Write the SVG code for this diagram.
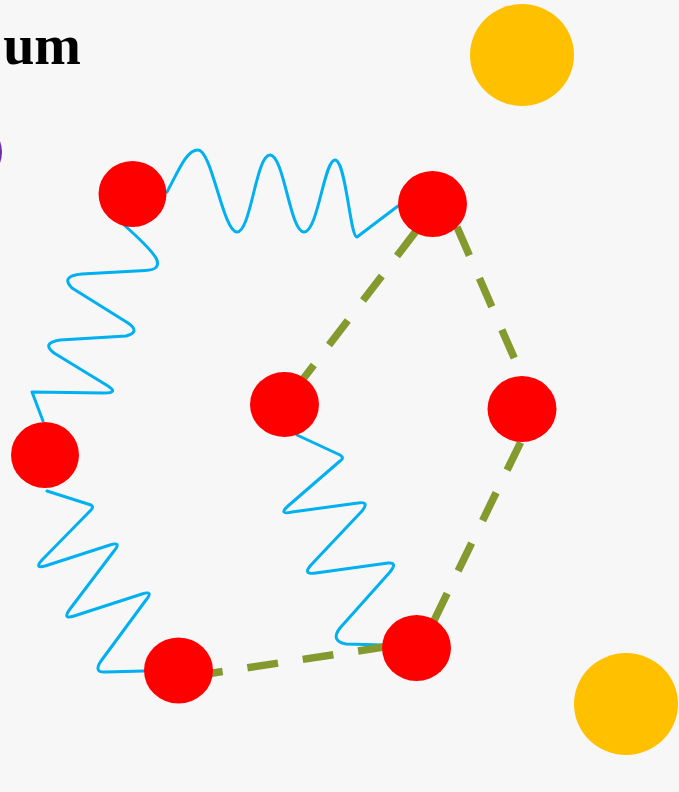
<svg xmlns="http://www.w3.org/2000/svg" width="679" height="792" viewBox="0 0 679 792">
<style>
.node{fill:#FF0000}
.sun{fill:#FFC000}
.spring{fill:none;stroke:#00B0F0;stroke-width:3;stroke-linejoin:round;stroke-linecap:round}
.bond{fill:none;stroke:#849A2E;stroke-width:7.5;stroke-dasharray:31 25}
.title{font-family:"Liberation Serif","DejaVu Serif",serif;font-size:56px;font-weight:bold;fill:#000}
</style>
<rect width="679" height="792" fill="#f7f7f7"/>
<text class="title" x="81" y="64" text-anchor="end">um</text>
<circle cx="-29" cy="152" r="31" fill="#7030A0"/>
<g id="sun1"><ellipse class="sun" cx="522" cy="55" rx="52" ry="51"/></g>
<g id="sun2"><ellipse class="sun" cx="626" cy="704" rx="52" ry="51"/></g>
<g id="connectors">
<path class="spring" d="M167,192 C178,172 186,150 198,150 C212,150 223,232 237,232 C251,232 256,155 270,155 C284,155 290,232 304,232 C318,232 324,160 335,160 C346,160 350,237 357,237 L398,206"/>
<path class="spring" d="M123,224 Q150,248 156,258 Q162,270 145,270.5 L82,274 Q60,276 72,288 L128,323 Q141,332 126,336 L60,340 Q41,343 54,353 L108,386 Q119,393 104,393 L32,392 L43,421"/>
<path class="spring" d="M47,491 L91,505 Q94,507 91,510 L42,560 Q34,569 45,566 L110,545 Q122,541 114,551 L70,609 Q62,620 74,616 L142,594 Q154,590 146,600 L101,661 Q93,673 106,672 L144,671"/>
<path class="spring" d="M297,435 L340,455 Q345,458 340,461 L288,506 Q278,515 292,512 L358,503 Q370,501 362,511 L311,565 Q302,575 316,573 L388,563 Q398,562 390,572 L340,628 Q330,641 346,644 L384,645"/>
<path class="bond" d="M415.8,231.4 L283.6,404.5"/>
<path class="bond" d="M457,227 L536.5,409"/>
<path class="bond" d="M520.6,442.3 L420.7,648"/>
<path class="bond" d="M192,676.2 L420,641.5"/>
</g>
<g id="nodeA"><ellipse class="node" cx="132.5" cy="194" rx="34" ry="33"/></g>
<g id="nodeB"><ellipse class="node" cx="432.5" cy="204" rx="34.5" ry="33"/></g>
<g id="nodeC"><ellipse class="node" cx="284.5" cy="404.5" rx="34.5" ry="32.5"/></g>
<g id="nodeD"><ellipse class="node" cx="522" cy="409" rx="34.5" ry="33"/></g>
<g id="nodeE"><ellipse class="node" cx="45" cy="455" rx="34" ry="33"/></g>
<g id="nodeF"><ellipse class="node" cx="178.5" cy="670.5" rx="34.5" ry="33"/></g>
<g id="nodeG"><ellipse class="node" cx="416.5" cy="648" rx="34.5" ry="33"/></g>
</svg>
